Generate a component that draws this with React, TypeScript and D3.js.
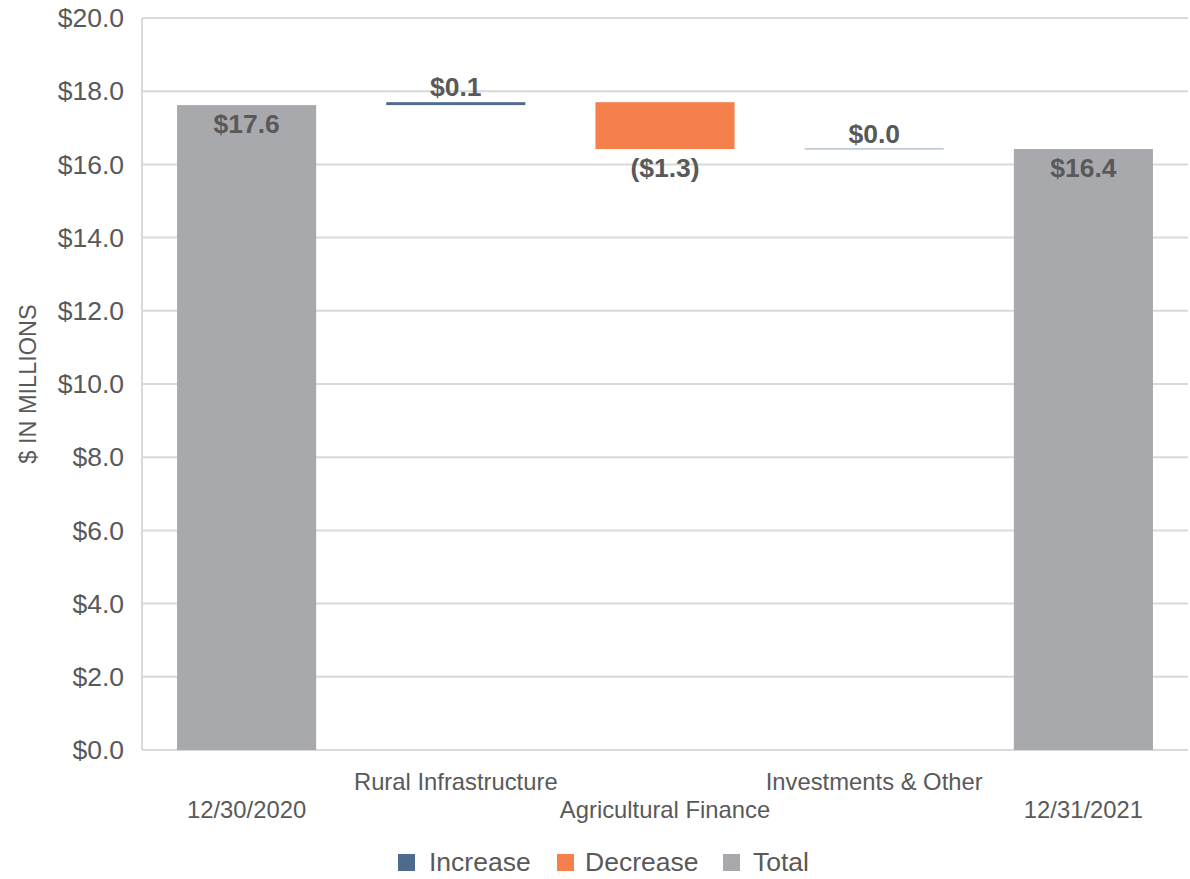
import React from "react";
import * as d3 from "d3";

const categories = ["12/30/2020", "Rural Infrastructure", "Agricultural Finance", "Investments & Other", "12/31/2021"];
const kinds = ["total", "increase", "decrease", "increase", "total"];
const changes = [17.62, 0.08, -1.28, 0.01, 16.42];
const valueLabels = ["$17.6", "$0.1", "($1.3)", "$0.0", "$16.4"];
const yTicks = [0, 2, 4, 6, 8, 10, 12, 14, 16, 18, 20];
const legendItems = [
  { key: "increase", label: "Increase" },
  { key: "decrease", label: "Decrease" },
  { key: "total", label: "Total" },
];

const colors: Record<string, string> = {
  increase: "#4E6A8D",
  decrease: "#F5804B",
  total: "#A8A9AD",
};

const W = 1190;
const H = 879;
const M = { left: 142, right: 2, top: 18, bottom: 129 };
const FONT = "'Liberation Sans', Arial, sans-serif";
const TEXT = "#595959";

export default function App() {
  const x = d3
    .scaleBand<string>()
    .domain(categories)
    .range([M.left, W - M.right])
    .paddingInner(0.335)
    .paddingOuter(0.1675);
  const y = d3.scaleLinear().domain([0, 20]).range([H - M.bottom, M.top]);

  let running = 0;
  const segs = categories.map((c, i) => {
    const k = kinds[i];
    let lo: number, hi: number;
    if (k === "total") {
      lo = 0;
      hi = changes[i];
      running = changes[i];
    } else {
      const next = running + changes[i];
      lo = Math.min(running, next);
      hi = Math.max(running, next);
      running = next;
    }
    return { c, k, lo, hi, label: valueLabels[i] };
  });

  const legendPos = [398, 557, 723];
  const legendTextX = [429, 585, 753];

  return (
    <svg width={W} height={H} style={{ display: "block", position: "absolute", left: 0, top: 0 }} fontFamily={FONT}>
      <rect width={W} height={H} fill="#fff" />
      {yTicks.map((t) => (
        <g key={t}>
          <line x1={M.left} x2={W - M.right} y1={y(t)} y2={y(t)} stroke="#d9d9d9" strokeWidth={2} />
          <text x={124} y={y(t)} dy="0.35em" textAnchor="end" fontSize={26.5} fill={TEXT}>
            {"$" + d3.format(".1f")(t)}
          </text>
        </g>
      ))}
      <line x1={M.left} x2={M.left} y1={M.top} y2={y(0)} stroke="#d9d9d9" strokeWidth={2} />
      <text
        transform={`translate(28,${(M.top + y(0)) / 2}) rotate(-90)`}
        textAnchor="middle"
        dy="0.35em"
        fontSize={23.5}
        fill={TEXT}
      >
        $ IN MILLIONS
      </text>
      {segs.map((s) => (
        <rect
          key={s.c}
          x={x(s.c)}
          width={x.bandwidth()}
          y={y(s.hi)}
          height={Math.max(0.6, y(s.lo) - y(s.hi))}
          fill={colors[s.k]}
        />
      ))}
      {segs.map((s) => {
        const cx = (x(s.c) as number) + x.bandwidth() / 2;
        let ty: number;
        if (s.k === "total") ty = y(s.hi) + 28;
        else if (s.k === "decrease") ty = y(s.lo) + 28;
        else ty = y(s.hi) - 6;
        return (
          <text key={s.c + "l"} x={cx} y={ty} textAnchor="middle" fontSize={26.5} fontWeight="bold" fill={TEXT}>
            {s.label}
          </text>
        );
      })}
      {categories.map((c, i) => (
        <text
          key={c + "x"}
          x={(x(c) as number) + x.bandwidth() / 2}
          y={i % 2 === 0 ? 818 : 790}
          textAnchor="middle"
          fontSize={23.8}
          fill={TEXT}
        >
          {c}
        </text>
      ))}
      {legendItems.map((l, i) => (
        <g key={l.key}>
          <rect x={legendPos[i]} y={854} width={17} height={17} fill={colors[l.key]} />
          <text x={legendTextX[i]} y={871} fontSize={26.5} fill={TEXT}>
            {l.label}
          </text>
        </g>
      ))}
    </svg>
  );
}
